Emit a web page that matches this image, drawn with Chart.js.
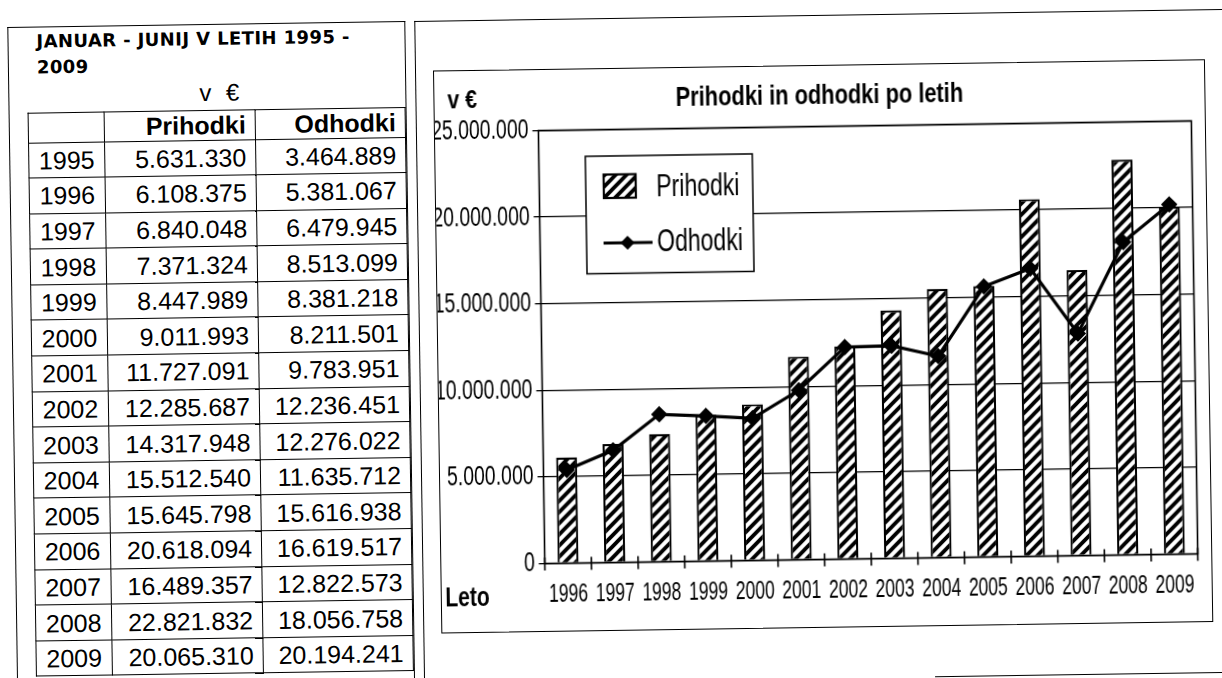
<!DOCTYPE html>
<html>
<head>
<meta charset="utf-8">
<script src="https://cdn.jsdelivr.net/npm/chart.js@4/dist/chart.umd.min.js"></script>
<style>
  body { margin:0; background:#fff; width:1222px; height:678px; position:relative; overflow:hidden; font-family:'Liberation Sans', Arial, sans-serif; color:#000; }
  #page { position:absolute; left:0; top:0; width:1222px; height:678px; transform:rotate(-0.85deg); transform-origin:611px 339px; }
  .abs { position:absolute; }
  #tbl { position:absolute; left:31px; top:103.5px; border-collapse:collapse; font-size:25px; }
  #tbl td { border:1.5px solid #000; padding:0 9px 0 0; text-align:right; height:34.6px; line-height:34px; }
  #tbl td.y { text-align:center; padding:0; }
  #tbl tr.h td { height:29px; line-height:29px; font-weight:bold; }
</style>
</head>
<body>
<div id="page">
  <div class="abs" style="left:12px;top:18px;width:396px;height:700px;border:1.5px solid #000;border-bottom:none"></div>
  <div class="abs" style="left:419px;top:18px;width:840px;height:700px;border-left:1.5px solid #000;border-top:1.5px solid #000"></div>
  <div class="abs" style="left:930px;top:681px;width:300px;border-top:1.5px solid #000"></div>
  <div class="abs" style="left:41px;top:19.5px;font-family:'DejaVu Sans',sans-serif;font-weight:bold;font-size:18px;letter-spacing:0.4px;line-height:26px">JANUAR - JUNIJ V LETIH 1995 -<br>2009</div>
  <div class="abs" style="left:203px;top:73px;font-size:24px;line-height:28px;word-spacing:8px">v €</div>
  <table id="tbl">
    <colgroup><col style="width:76px"><col style="width:151px"><col style="width:150px"></colgroup>
    <tbody id="tb"><tr class="h"><td class="y"></td><td>Prihodki</td><td>Odhodki</td></tr></tbody>
  </table>
  <div class="abs" style="left:437px;top:68px;width:770px;height:561px;border:1.5px solid #000">
    <canvas id="chart" width="770" height="561" style="position:absolute;left:0;top:0"></canvas>
  </div>
</div>
<script>
// podatki iz tabele
const years = [1995, 1996, 1997, 1998, 1999, 2000, 2001, 2002, 2003, 2004, 2005, 2006, 2007, 2008, 2009];
const prihodki = [5631330, 6108375, 6840048, 7371324, 8447989, 9011993, 11727091, 12285687, 14317948, 15512540, 15645798, 20618094, 16489357, 22821832, 20065310];
const odhodki = [3464889, 5381067, 6479945, 8513099, 8381218, 8211501, 9783951, 12236451, 12276022, 11635712, 15616938, 16619517, 12822573, 18056758, 20194241];
const yMax = 25000000;
const yStep = 5000000;

const sans = "'Liberation Sans', Arial, sans-serif";

function fmt(v) {
  return String(v).replace(/\B(?=(\d{3})+(?!\d))/g, '.');
}

// tabela levo
const tb = document.getElementById('tb');
years.forEach((y, i) => {
  const tr = document.createElement('tr');
  tr.innerHTML = '<td class="y">' + y + '</td><td>' + fmt(prihodki[i]) + '</td><td>' + fmt(odhodki[i]) + '</td>';
  tb.appendChild(tr);
});

// graf zacne z letom 1996
const chartYears = years.slice(1).map(String);
const chartPri = prihodki.slice(1);
const chartOdh = odhodki.slice(1);

function makeHatch() {
  const s = 11;
  const c = document.createElement('canvas');
  c.width = s; c.height = s;
  const g = c.getContext('2d');
  g.fillStyle = '#fff';
  g.fillRect(0, 0, s, s);
  g.strokeStyle = '#000';
  g.lineWidth = 3.8;
  g.beginPath();
  g.moveTo(-2, s + 2); g.lineTo(s + 2, -2);
  g.moveTo(-2, 2); g.lineTo(2, -2);
  g.moveTo(s - 2, s + 2); g.lineTo(s + 2, s - 2);
  g.stroke();
  return g.createPattern(c, 'repeat');
}
const hatch = makeHatch();

// ozka pisava (kot Arial Narrow) - vodoravno stisnjen tekst
function narrowText(ctx, text, x, y, size, k, weight, align) {
  ctx.save();
  ctx.translate(x, y);
  ctx.scale(k, 1);
  ctx.font = weight + ' ' + size + 'px ' + sans;
  ctx.textAlign = align;
  ctx.textBaseline = 'middle';
  ctx.fillStyle = '#000';
  ctx.fillText(text, 0, 0);
  ctx.restore();
}

const framePlugin = {
  id: 'frame',
  afterDraw(chart) {
    const ctx = chart.ctx;
    const a = chart.chartArea;
    const xs = chart.scales.x, ys = chart.scales.y;
    const n = chartYears.length;
    ctx.save();
    ctx.strokeStyle = '#000';
    ctx.lineWidth = 1.6;
    ctx.strokeRect(a.left, a.top, a.right - a.left, a.bottom - a.top);
    // kljukice na osi x
    ctx.beginPath();
    for (let i = 0; i <= n; i++) {
      const x = a.left + i * (a.right - a.left) / n;
      ctx.moveTo(x, a.bottom - 6);
      ctx.lineTo(x, a.bottom + 7);
    }
    ctx.stroke();

    ys.ticks.forEach(t => {
      narrowText(ctx, t.label, a.left - 10, ys.getPixelForValue(t.value), 27, 0.72, '', 'right');
    });
    xs.ticks.forEach((t, i) => {
      narrowText(ctx, chartYears[i], xs.getPixelForTick(i), a.bottom + 31.5, 25, 0.7, '', 'center');
    });

    narrowText(ctx, 'Prihodki in odhodki po letih', chart.width / 2, 30.5, 28, 0.78, 'bold', 'center');
    narrowText(ctx, 'v €', 13, 30.5, 25, 0.85, 'bold', 'left');
    narrowText(ctx, 'Leto', 3.5, 528, 27, 0.78, 'bold', 'left');

    // legenda
    const lx = 150, ly = 87, lw = 167, lh = 117.5;
    ctx.lineWidth = 1.5;
    ctx.fillStyle = '#fff';
    ctx.fillRect(lx, ly, lw, lh);
    ctx.strokeRect(lx, ly, lw, lh);
    ctx.fillStyle = hatch;
    ctx.fillRect(168, 105.5, 32, 23.5);
    ctx.lineWidth = 2.2;
    ctx.strokeRect(168, 105.5, 32, 23.5);
    ctx.lineWidth = 3.2;
    ctx.beginPath();
    ctx.moveTo(167, 174); ctx.lineTo(216, 174);
    ctx.stroke();
    ctx.fillStyle = '#000';
    ctx.beginPath();
    ctx.moveTo(191, 167); ctx.lineTo(198, 174); ctx.lineTo(191, 181); ctx.lineTo(184, 174);
    ctx.closePath();
    ctx.fill();
    narrowText(ctx, chart.data.datasets[1].label, 220.5, 119, 32, 0.72, '', 'left');
    narrowText(ctx, chart.data.datasets[0].label, 220.5, 174.5, 32, 0.72, '', 'left');
    ctx.restore();
  }
};

new Chart(document.getElementById('chart'), {
  type: 'bar',
  data: {
    labels: chartYears,
    datasets: [{
      type: 'line',
      label: 'Odhodki',
      data: chartOdh,
      borderColor: '#000',
      borderWidth: 3.2,
      pointStyle: 'rectRot',
      pointRadius: 6,
      pointBackgroundColor: '#000',
      pointBorderColor: '#000',
      tension: 0,
      order: 0
    }, {
      type: 'bar',
      label: 'Prihodki',
      data: chartPri,
      backgroundColor: hatch,
      borderColor: '#000',
      borderWidth: 2.2,
      barPercentage: 0.45,
      categoryPercentage: 1,
      order: 1
    }]
  },
  options: {
    responsive: false,
    animation: false,
    devicePixelRatio: 1,
    layout: { padding: { top: 60.5, right: 13.5, left: 0, bottom: 0 } },
    plugins: { legend: { display: false }, tooltip: { enabled: false }, title: { display: false } },
    scales: {
      x: {
        grid: { display: false },
        border: { display: false },
        ticks: { display: false, autoSkip: false },
        afterFit: s => { s.height = 67.5; }
      },
      y: {
        min: 0,
        max: yMax,
        border: { display: false },
        grid: { color: '#000', lineWidth: 1.3, tickLength: 6 },
        ticks: { display: false, stepSize: yStep, callback: v => fmt(v) },
        afterFit: s => { s.width = 103.5; }
      }
    }
  },
  plugins: [framePlugin]
});
</script>
</body>
</html>
